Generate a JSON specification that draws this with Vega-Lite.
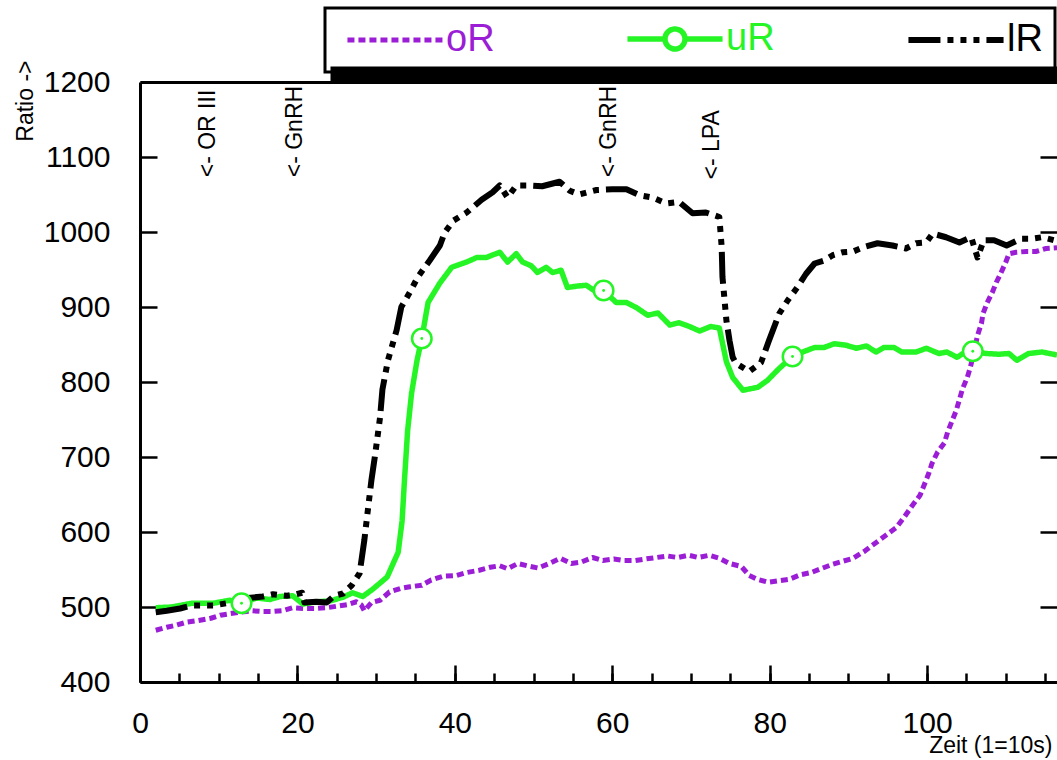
{
  "$schema": "https://vega.github.io/schema/vega-lite/v6.json",
  "width": 917,
  "height": 600,
  "autosize": {"type": "none"},
  "padding": {"left": 140, "top": 82, "right": 0, "bottom": 78},
  "background": "white",
  "datasets": {
    "lines": [
      {"s":"oR","t":2,"v":469},{"s":"oR","t":3.4,"v":473},{"s":"oR","t":4.7,"v":476},{"s":"oR","t":6,"v":480},{"s":"oR","t":7.4,"v":482},{"s":"oR","t":9,"v":485},{"s":"oR","t":10.2,"v":489},{"s":"oR","t":11.4,"v":491},{"s":"oR","t":12.7,"v":493},{"s":"oR","t":14.2,"v":495},{"s":"oR","t":15.5,"v":494},{"s":"oR","t":16.8,"v":494},{"s":"oR","t":18.1,"v":495},{"s":"oR","t":19.4,"v":499},{"s":"oR","t":20.9,"v":498},{"s":"oR","t":22.2,"v":498},{"s":"oR","t":23.7,"v":499},{"s":"oR","t":25,"v":501},{"s":"oR","t":26.3,"v":503},{"s":"oR","t":27.5,"v":507},{"s":"oR","t":28.1,"v":503},{"s":"oR","t":28.5,"v":495},{"s":"oR","t":29.4,"v":506},{"s":"oR","t":30.5,"v":509},{"s":"oR","t":31.7,"v":520},{"s":"oR","t":33.2,"v":525},{"s":"oR","t":34.3,"v":527},{"s":"oR","t":35.8,"v":529},{"s":"oR","t":37,"v":536},{"s":"oR","t":38.5,"v":541},{"s":"oR","t":40.2,"v":542},{"s":"oR","t":41.5,"v":546},{"s":"oR","t":43.1,"v":549},{"s":"oR","t":44.5,"v":553},{"s":"oR","t":45.7,"v":555},{"s":"oR","t":46.7,"v":551},{"s":"oR","t":48,"v":558},{"s":"oR","t":49.2,"v":555},{"s":"oR","t":50.6,"v":552},{"s":"oR","t":52,"v":558},{"s":"oR","t":53.4,"v":565},{"s":"oR","t":54.8,"v":558},{"s":"oR","t":56.1,"v":560},{"s":"oR","t":57.5,"v":566},{"s":"oR","t":58.8,"v":562},{"s":"oR","t":60.2,"v":564},{"s":"oR","t":61.5,"v":562},{"s":"oR","t":62.9,"v":562},{"s":"oR","t":64.2,"v":564},{"s":"oR","t":65.6,"v":566},{"s":"oR","t":67,"v":568},{"s":"oR","t":68.3,"v":566},{"s":"oR","t":69.7,"v":569},{"s":"oR","t":70.9,"v":566},{"s":"oR","t":72.3,"v":569},{"s":"oR","t":73.6,"v":565},{"s":"oR","t":74.9,"v":558},{"s":"oR","t":76.4,"v":554},{"s":"oR","t":77.4,"v":542},{"s":"oR","t":78.4,"v":537},{"s":"oR","t":79.8,"v":533},{"s":"oR","t":81.1,"v":535},{"s":"oR","t":82.5,"v":537},{"s":"oR","t":83.9,"v":543},{"s":"oR","t":85.3,"v":546},{"s":"oR","t":86.5,"v":551},{"s":"oR","t":88,"v":557},{"s":"oR","t":89.3,"v":561},{"s":"oR","t":90.6,"v":565},{"s":"oR","t":92,"v":574},{"s":"oR","t":93.4,"v":585},{"s":"oR","t":94.8,"v":596},{"s":"oR","t":96.1,"v":606},{"s":"oR","t":97.1,"v":620},{"s":"oR","t":98.1,"v":635},{"s":"oR","t":99.1,"v":649},{"s":"oR","t":99.6,"v":662},{"s":"oR","t":100.2,"v":678},{"s":"oR","t":100.6,"v":691},{"s":"oR","t":101.3,"v":706},{"s":"oR","t":102.2,"v":719},{"s":"oR","t":102.6,"v":733},{"s":"oR","t":103.2,"v":749},{"s":"oR","t":103.7,"v":762},{"s":"oR","t":104.5,"v":791},{"s":"oR","t":105.1,"v":806},{"s":"oR","t":105.5,"v":820},{"s":"oR","t":106,"v":842},{"s":"oR","t":106.4,"v":862},{"s":"oR","t":106.9,"v":878},{"s":"oR","t":107.1,"v":891},{"s":"oR","t":107.6,"v":905},{"s":"oR","t":108.3,"v":920},{"s":"oR","t":108.8,"v":933},{"s":"oR","t":109.4,"v":946},{"s":"oR","t":110,"v":960},{"s":"oR","t":110.4,"v":971},{"s":"oR","t":111.3,"v":973},{"s":"oR","t":112.6,"v":974},{"s":"oR","t":113.8,"v":974},{"s":"oR","t":115.1,"v":978},{"s":"oR","t":116.5,"v":979},
      {"s":"uR","t":2,"v":499},{"s":"uR","t":4,"v":500},{"s":"uR","t":6.6,"v":505},{"s":"uR","t":9.3,"v":505},{"s":"uR","t":11.4,"v":509},{"s":"uR","t":12.9,"v":505},{"s":"uR","t":14.8,"v":512},{"s":"uR","t":16.5,"v":510},{"s":"uR","t":17.8,"v":514},{"s":"uR","t":19.4,"v":515},{"s":"uR","t":20.7,"v":504},{"s":"uR","t":22.4,"v":507},{"s":"uR","t":24.1,"v":508},{"s":"uR","t":25.8,"v":513},{"s":"uR","t":27,"v":519},{"s":"uR","t":28.3,"v":514},{"s":"uR","t":29.6,"v":524},{"s":"uR","t":31.4,"v":540},{"s":"uR","t":32.8,"v":573},{"s":"uR","t":33.3,"v":615},{"s":"uR","t":33.6,"v":669},{"s":"uR","t":34,"v":735},{"s":"uR","t":34.5,"v":785},{"s":"uR","t":35.2,"v":829},{"s":"uR","t":35.8,"v":858},{"s":"uR","t":36.6,"v":906},{"s":"uR","t":38.1,"v":932},{"s":"uR","t":39.6,"v":953},{"s":"uR","t":41.5,"v":960},{"s":"uR","t":42.8,"v":966},{"s":"uR","t":44,"v":966},{"s":"uR","t":45.7,"v":973},{"s":"uR","t":46.7,"v":960},{"s":"uR","t":47.8,"v":971},{"s":"uR","t":48.6,"v":960},{"s":"uR","t":49.7,"v":955},{"s":"uR","t":50.5,"v":946},{"s":"uR","t":51.6,"v":953},{"s":"uR","t":52.4,"v":946},{"s":"uR","t":53.5,"v":949},{"s":"uR","t":54.3,"v":926},{"s":"uR","t":55.6,"v":928},{"s":"uR","t":56.7,"v":929},{"s":"uR","t":57.7,"v":922},{"s":"uR","t":58.9,"v":922},{"s":"uR","t":60.5,"v":906},{"s":"uR","t":61.8,"v":906},{"s":"uR","t":63.1,"v":899},{"s":"uR","t":64.5,"v":889},{"s":"uR","t":65.8,"v":892},{"s":"uR","t":67.3,"v":876},{"s":"uR","t":68.5,"v":879},{"s":"uR","t":69.8,"v":874},{"s":"uR","t":71.1,"v":868},{"s":"uR","t":72.5,"v":874},{"s":"uR","t":73.6,"v":872},{"s":"uR","t":74.5,"v":827},{"s":"uR","t":75.3,"v":806},{"s":"uR","t":76.6,"v":789},{"s":"uR","t":78.5,"v":793},{"s":"uR","t":79.7,"v":802},{"s":"uR","t":81.2,"v":818},{"s":"uR","t":82.9,"v":834},{"s":"uR","t":84.2,"v":840},{"s":"uR","t":85.7,"v":846},{"s":"uR","t":86.9,"v":846},{"s":"uR","t":88.2,"v":851},{"s":"uR","t":89.7,"v":849},{"s":"uR","t":91,"v":845},{"s":"uR","t":92.3,"v":848},{"s":"uR","t":93.5,"v":840},{"s":"uR","t":94.5,"v":846},{"s":"uR","t":95.8,"v":846},{"s":"uR","t":96.8,"v":840},{"s":"uR","t":98.6,"v":840},{"s":"uR","t":99.9,"v":845},{"s":"uR","t":101.5,"v":838},{"s":"uR","t":102.5,"v":840},{"s":"uR","t":103.8,"v":833},{"s":"uR","t":104.9,"v":840},{"s":"uR","t":105.8,"v":841},{"s":"uR","t":107.5,"v":838},{"s":"uR","t":109.1,"v":837},{"s":"uR","t":110.4,"v":838},{"s":"uR","t":111.4,"v":829},{"s":"uR","t":112.9,"v":838},{"s":"uR","t":114.6,"v":840},{"s":"uR","t":116.5,"v":836},
      {"s":"lR","t":2,"v":493},{"s":"lR","t":3.4,"v":495},{"s":"lR","t":5.1,"v":498},{"s":"lR","t":6.6,"v":502},{"s":"lR","t":9.3,"v":502},{"s":"lR","t":11,"v":505},{"s":"lR","t":13.7,"v":512},{"s":"lR","t":15.6,"v":514},{"s":"lR","t":16.9,"v":517},{"s":"lR","t":18.7,"v":515},{"s":"lR","t":19.9,"v":517},{"s":"lR","t":20.6,"v":519},{"s":"lR","t":20.9,"v":506},{"s":"lR","t":22.4,"v":507},{"s":"lR","t":23.7,"v":506},{"s":"lR","t":24.7,"v":515},{"s":"lR","t":25.8,"v":518},{"s":"lR","t":26.9,"v":529},{"s":"lR","t":27.9,"v":545},{"s":"lR","t":28.5,"v":589},{"s":"lR","t":28.9,"v":625},{"s":"lR","t":29.4,"v":669},{"s":"lR","t":29.9,"v":705},{"s":"lR","t":30.5,"v":753},{"s":"lR","t":30.8,"v":790},{"s":"lR","t":31.5,"v":829},{"s":"lR","t":32.6,"v":869},{"s":"lR","t":33.2,"v":900},{"s":"lR","t":34.3,"v":920},{"s":"lR","t":35.3,"v":940},{"s":"lR","t":36.8,"v":962},{"s":"lR","t":38.1,"v":982},{"s":"lR","t":38.7,"v":999},{"s":"lR","t":39.8,"v":1015},{"s":"lR","t":41.5,"v":1026},{"s":"lR","t":43.4,"v":1043},{"s":"lR","t":44.8,"v":1053},{"s":"lR","t":45.7,"v":1062},{"s":"lR","t":46.7,"v":1046},{"s":"lR","t":47.8,"v":1062},{"s":"lR","t":49.5,"v":1062},{"s":"lR","t":51.1,"v":1061},{"s":"lR","t":53.3,"v":1067},{"s":"lR","t":54.6,"v":1055},{"s":"lR","t":55.8,"v":1050},{"s":"lR","t":58,"v":1056},{"s":"lR","t":60,"v":1057},{"s":"lR","t":61.8,"v":1057},{"s":"lR","t":63.5,"v":1049},{"s":"lR","t":65.1,"v":1046},{"s":"lR","t":66.9,"v":1038},{"s":"lR","t":68.5,"v":1040},{"s":"lR","t":70.2,"v":1025},{"s":"lR","t":71.9,"v":1026},{"s":"lR","t":73.6,"v":1020},{"s":"lR","t":73.9,"v":980},{"s":"lR","t":74,"v":940},{"s":"lR","t":74.5,"v":882},{"s":"lR","t":74.9,"v":855},{"s":"lR","t":75.3,"v":833},{"s":"lR","t":75.7,"v":825},{"s":"lR","t":77.4,"v":814},{"s":"lR","t":78.9,"v":826},{"s":"lR","t":79.9,"v":855},{"s":"lR","t":81.2,"v":891},{"s":"lR","t":82.3,"v":909},{"s":"lR","t":83.5,"v":926},{"s":"lR","t":84.6,"v":944},{"s":"lR","t":85.7,"v":958},{"s":"lR","t":86.9,"v":962},{"s":"lR","t":88,"v":969},{"s":"lR","t":89.3,"v":973},{"s":"lR","t":90.6,"v":974},{"s":"lR","t":92,"v":980},{"s":"lR","t":93.7,"v":985},{"s":"lR","t":95.6,"v":982},{"s":"lR","t":97.3,"v":978},{"s":"lR","t":98.6,"v":985},{"s":"lR","t":99.9,"v":986},{"s":"lR","t":100.7,"v":998},{"s":"lR","t":102.4,"v":993},{"s":"lR","t":104.1,"v":986},{"s":"lR","t":105.6,"v":993},{"s":"lR","t":106.4,"v":966},{"s":"lR","t":107.2,"v":989},{"s":"lR","t":108.5,"v":989},{"s":"lR","t":110.1,"v":982},{"s":"lR","t":111.9,"v":991},{"s":"lR","t":113.3,"v":991},{"s":"lR","t":114.6,"v":993},{"s":"lR","t":116.5,"v":988}
    ],
    "marks": [
      {"t":12.9,"v":505},{"t":35.8,"v":858},{"t":58.9,"v":922},{"t":82.9,"v":834},{"t":105.8,"v":841}
    ],
    "notes": [
      {"t":8.6,"v":1073,"label":"<- OR III"},
      {"t":19.7,"v":1073,"label":"<- GnRH"},
      {"t":59.6,"v":1073,"label":"<- GnRH"},
      {"t":72.7,"v":1070,"label":"<- LPA"}
    ]
  },
  "resolve": {"axis": {"x": "independent", "y": "independent"}},
  "layer": [
    {
      "data": {"name": "lines"},
      "mark": {"type": "line", "clip": true, "strokeCap": "butt", "strokeJoin": "round"},
      "encoding": {
        "x": {"field": "t", "type": "quantitative",
          "scale": {"domain": [0, 116.5], "nice": false, "zero": false},
          "axis": {"orient": "bottom", "values": [0, 20, 40, 60, 80, 100], "tickSize": -17, "tickWidth": 2.5, "domainWidth": 3,
            "labelFontSize": 30, "labelPadding": 43, "labelFlush": false, "labelOverlap": false, "format": "d",
            "title": "Zeit (1=10s)", "titleFontSize": 23, "titleX": 912, "titleY": 70, "titleAlign": "right", "titleBaseline": "alphabetic", "titleAnchor": null}},
        "y": {"field": "v", "type": "quantitative",
          "scale": {"domain": [400, 1200], "nice": false, "zero": false},
          "axis": {"orient": "left", "values": [400, 500, 600, 700, 800, 900, 1000, 1100, 1200], "tickSize": -17, "tickWidth": 2.5, "domainWidth": 3,
            "labelFontSize": 30, "labelPadding": 47, "labelFlush": false, "labelOverlap": false, "format": "d",
            "title": "Ratio ->", "titleFontSize": 23, "titleAngle": 270, "titleX": -108, "titleY": -22, "titleAlign": "right", "titleBaseline": "alphabetic", "titleAnchor": null}},
        "color": {"field": "s", "type": "nominal", "sort": ["oR", "uR", "lR"],
          "scale": {"domain": ["oR", "uR", "lR"], "range": ["#9B1ED6", "#25F525", "#000000"]},
          "legend": {"title": null, "orient": "none", "legendX": 185, "legendY": -74, "direction": "horizontal",
            "padding": 12, "strokeColor": "black", "fillColor": "white",
            "symbolSize": 1005, "symbolOffset": 39, "symbolStrokeWidth": 5, "symbolFillColor": "white",
            "labelOffset": 32, "columnPadding": 121, "labelFontSize": 38, "labelFont": "Liberation Sans Narrow, Liberation Sans",
            "encode": {
              "symbols": {"update": {"shape": {"signal": "datum.value === 'uR' ? 'M-3,0H-0.63M0.63,0H3M-0.63,0A0.63,0.63,0,1,1,0.63,0A0.63,0.63,0,1,1,-0.63,0' : 'M-3,0H3'"}}},
              "labels": {"update": {"fill": {"scale": "color", "field": "value"}}}
            }}},
        "strokeDash": {"field": "s", "type": "nominal", "sort": ["oR", "uR", "lR"],
          "scale": {"domain": ["oR", "uR", "lR"], "range": [[7, 4], [1, 0], [32, 7, 6, 7, 6, 7, 6, 7]]},
          "legend": {"title": null, "orient": "none", "legendX": 185, "legendY": -74, "direction": "horizontal",
            "padding": 12, "strokeColor": "black", "fillColor": "white",
            "symbolSize": 1005, "symbolOffset": 39, "symbolStrokeWidth": 5, "symbolFillColor": "white",
            "labelOffset": 32, "columnPadding": 121, "labelFontSize": 38, "labelFont": "Liberation Sans Narrow, Liberation Sans",
            "encode": {
              "symbols": {"update": {"shape": {"signal": "datum.value === 'uR' ? 'M-3,0H-0.63M0.63,0H3M-0.63,0A0.63,0.63,0,1,1,0.63,0A0.63,0.63,0,1,1,-0.63,0' : 'M-3,0H3'"}}},
              "labels": {"update": {"fill": {"scale": "color", "field": "value"}}}
            }}},
        "strokeWidth": {"field": "s", "type": "nominal",
          "scale": {"domain": ["oR", "uR", "lR"], "range": [5, 6, 7]}, "legend": null}
      }
    },
    {
      "data": {"name": "marks"},
      "mark": {"type": "point", "shape": "circle", "filled": true, "fill": "white", "stroke": "#25F525", "strokeWidth": 2.5, "size": 380, "opacity": 1},
      "encoding": {
        "x": {"field": "t", "type": "quantitative",
          "axis": {"orient": "bottom", "values": [0,5,10,15,20,25,30,35,40,45,50,55,60,65,70,75,80,85,90,95,100,105,110,115], "tickSize": -9, "tickWidth": 2.5, "domain": false, "labels": false, "title": null}},
        "y": {"field": "v", "type": "quantitative",
          "axis": {"orient": "right", "values": [400, 500, 600, 700, 800, 900, 1000, 1100, 1200], "tickSize": -17, "tickWidth": 2.5, "domain": false, "labels": false, "title": null}}
      }
    },
    {
      "data": {"name": "marks"},
      "mark": {"type": "point", "shape": "circle", "filled": true, "color": "#25F525", "size": 8, "opacity": 1},
      "encoding": {
        "x": {"field": "t", "type": "quantitative",
          "axis": {"orient": "top", "ticks": false, "labels": false, "domain": true, "domainWidth": 3, "title": null}},
        "y": {"field": "v", "type": "quantitative", "axis": null}
      }
    },
    {
      "data": {"name": "notes"},
      "mark": {"type": "text", "angle": 270, "align": "left", "baseline": "middle", "fontSize": 23, "font": "Liberation Sans", "color": "black"},
      "encoding": {
        "x": {"field": "t", "type": "quantitative", "axis": null},
        "y": {"field": "v", "type": "quantitative", "axis": null},
        "text": {"field": "label"},
        "opacity": {"field": "label", "type": "nominal", "scale": {"range": [1, 1, 1]},
          "legend": {"title": null, "orient": "none", "legendX": 192, "legendY": -14, "direction": "horizontal",
            "padding": 1, "fillColor": "black", "strokeColor": "black", "symbolSize": 4, "symbolFillColor": "black",
            "symbolStrokeColor": "black", "labelColor": "black", "labelFontSize": 9, "labelExpr": "''",
            "labelOffset": 200, "columnPadding": 100}}
      }
    }
  ],
  "config": {
    "view": {"stroke": null},
    "font": "Liberation Sans",
    "axis": {"grid": false, "domainColor": "black", "tickColor": "black", "labelColor": "black", "titleColor": "black",
      "labelFont": "Liberation Sans", "titleFont": "Liberation Sans", "titleFontWeight": "normal"},
    "legend": {"strokeWidth": 3}
  }
}
